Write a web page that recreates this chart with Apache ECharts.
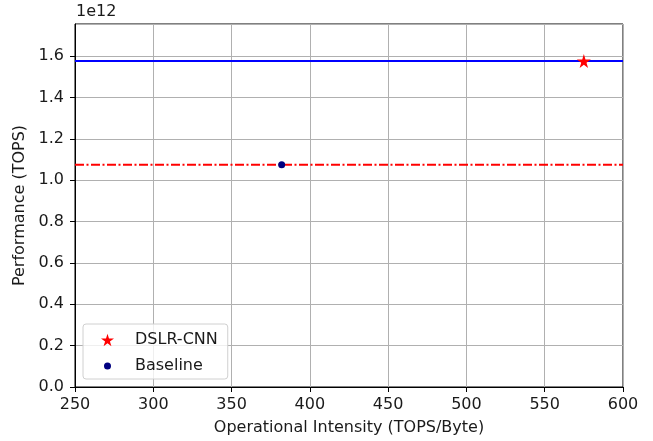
<!DOCTYPE html>
<html>
<head>
<meta charset="utf-8">
<script src="https://cdn.jsdelivr.net/npm/echarts@6/dist/echarts.min.js"></script>
<style>
  html, body {margin: 0; padding: 0; background: #fff;}
  #chart {width: 653px; height: 441px;}
</style>
</head>
<body>
<div id="chart"></div>
<script>
// x range of the two horizontal roof lines
var lineX = [250, 600];
// horizontal performance levels
var dslrLevel = [1.576e12, 1.576e12];
var baseLevel = [1.075e12, 1.075e12];
// scatter points [intensity, performance]
var dslrPoint = [[575, 1.576e12]];
var basePoint = [[382, 1.075e12]];
var seriesNames = ['DSLR-CNN', 'Baseline'];

var font = 'DejaVu Sans';
var fs = 16;
var star = 'path://M50,0 L61,35 L98,35 L68,57 L79,91 L50,70 L21,91 L32,57 L2,35 L39,35 Z';
// small dot inside a 100x100 box, so the legend icon keeps the marker size
var smallDot = 'path://M0,0 L0.01,0 L0,0.01 Z M100,100 L99.99,100 L100,99.99 Z ' +
  'M77,50 A27,27 0 1 1 23,50 A27,27 0 1 1 77,50 Z';

var chart = echarts.init(document.getElementById('chart'));
chart.setOption({
  animation: false,
  textStyle: {fontFamily: font},
  grid: {
    left: 75, right: 30, top: 24, bottom: 54,
    show: true, borderColor: '#000', borderWidth: 1, backgroundColor: '#fff'
  },
  graphic: [{
    type: 'text', left: 76, top: 4,
    style: {text: '1e12', font: fs + 'px "DejaVu Sans"', fill: '#1a1a1a'}
  }],
  legend: {
    data: [
      {name: seriesNames[0], icon: star},
      {name: seriesNames[1], icon: smallDot}
    ],
    orient: 'vertical',
    left: 83, top: 324,
    itemWidth: 13, itemHeight: 13, itemGap: 10,
    padding: [8, 10, 5, 18],
    borderColor: '#d0d0d0', borderWidth: 1, borderRadius: 3,
    backgroundColor: 'rgba(255,255,255,0.8)',
    textStyle: {fontSize: fs, color: '#1a1a1a', fontFamily: font, padding: [0, 0, 0, 16]}
  },
  xAxis: {
    type: 'value', min: 250, max: 600, interval: 50,
    name: 'Operational Intensity (TOPS/Byte)',
    nameLocation: 'middle', nameGap: 33,
    nameTextStyle: {fontSize: fs, color: '#1a1a1a'},
    axisLine: {show: true, lineStyle: {color: '#000', width: 1}},
    axisTick: {show: true, inside: false, length: 5, lineStyle: {color: '#000'}},
    axisLabel: {fontSize: fs, color: '#1a1a1a', margin: 10},
    splitLine: {show: true, lineStyle: {color: '#b0b0b0', width: 1}}
  },
  yAxis: {
    type: 'value', min: 0, max: 1.755e12, interval: 0.2e12,
    name: 'Performance (TOPS)',
    nameLocation: 'middle', nameGap: 41,
    nameTextStyle: {fontSize: fs, color: '#1a1a1a'},
    axisLine: {show: true, lineStyle: {color: '#000', width: 1}},
    axisTick: {show: true, inside: false, length: 5, lineStyle: {color: '#000'}},
    axisLabel: {
      fontSize: fs, color: '#1a1a1a', margin: 11, showMaxLabel: false,
      formatter: function (v) {
        var t = v / 1e12;
        return Math.abs(t * 5 - Math.round(t * 5)) < 1e-6 ? t.toFixed(1) : '';
      }
    },
    splitLine: {show: true, lineStyle: {color: '#b0b0b0', width: 1}}
  },
  series: [
    {
      type: 'line', silent: true, symbol: 'none', z: 3,
      data: lineX.map(function (x, i) { return [x, dslrLevel[i]]; }),
      lineStyle: {color: '#0000ff', width: 2}
    },
    {
      type: 'line', silent: true, symbol: 'none', z: 3,
      data: lineX.map(function (x, i) { return [x, baseLevel[i]]; }),
      lineStyle: {color: '#ff0000', width: 2, type: [9, 2.5, 2, 2.5]}
    },
    {
      name: seriesNames[0], type: 'scatter', z: 5,
      symbol: star, symbolSize: 14,
      itemStyle: {color: '#ff0000', opacity: 1},
      data: dslrPoint
    },
    {
      name: seriesNames[1], type: 'scatter', z: 5,
      symbol: 'circle', symbolSize: 7,
      itemStyle: {color: '#000080', opacity: 1},
      data: basePoint
    }
  ]
});
</script>
</body>
</html>
